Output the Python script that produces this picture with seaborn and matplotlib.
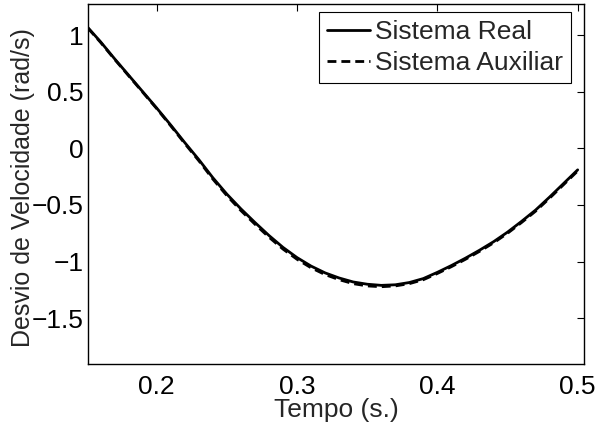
import numpy as np
import pandas as pd
import seaborn as sns
import matplotlib
matplotlib.use("Agg")
import matplotlib.pyplot as plt

# tempo (s.)
tempo = [0.151, 0.16, 0.17, 0.18, 0.19, 0.20, 0.21, 0.22, 0.23, 0.24,
         0.25, 0.26, 0.27, 0.28, 0.29, 0.30, 0.31, 0.32, 0.33, 0.34,
         0.35, 0.36, 0.37, 0.38, 0.39, 0.40, 0.41, 0.42, 0.43, 0.44,
         0.45, 0.46, 0.47, 0.48, 0.49, 0.50]

# desvio de velocidade (rad/s)
sistema_real = [1.065, 0.94, 0.79, 0.645, 0.50, 0.355, 0.205, 0.05, -0.10, -0.26,
                -0.405, -0.535, -0.655, -0.77, -0.875, -0.965, -1.04, -1.10, -1.145, -1.18,
                -1.20, -1.21, -1.205, -1.185, -1.15, -1.095, -1.035, -0.97, -0.90, -0.825,
                -0.74, -0.645, -0.545, -0.43, -0.31, -0.19]
sistema_aux = [1.06, 0.935, 0.785, 0.64, 0.495, 0.35, 0.198, 0.042, -0.11, -0.272,
               -0.418, -0.55, -0.67, -0.785, -0.89, -0.98, -1.055, -1.115, -1.16, -1.195,
               -1.215, -1.222, -1.215, -1.195, -1.16, -1.105, -1.045, -0.98, -0.91, -0.835,
               -0.75, -0.655, -0.555, -0.44, -0.32, -0.2]

labels = ["Sistema Real", "Sistema Auxiliar"]

df = pd.DataFrame({
    "Tempo": tempo * 2,
    "Desvio": sistema_real + sistema_aux,
    "Serie": [labels[0]] * len(tempo) + [labels[1]] * len(tempo),
})

FS = 19

sns.set_style("white")
plt.rcParams["font.family"] = ["Liberation Sans", "DejaVu Sans"]
plt.rcParams["font.size"] = FS

fig = plt.figure(figsize=(6.04, 4.28), dpi=100)
ax = fig.add_axes([0.1457, 0.1507, 0.8212, 0.8388])

sns.lineplot(data=df, x="Tempo", y="Desvio", hue="Serie", style="Serie",
             palette={labels[0]: "black", labels[1]: "black"},
             dashes={labels[0]: "", labels[1]: (3.2, 1.8)},
             linewidth=2, ax=ax, sort=False)

ax.set_xlim(0.151, 0.5045)
ax.set_ylim(-1.9, 1.27)
ax.set_xticks([0.2, 0.3, 0.4, 0.5])
ax.set_yticks([-1.5, -1, -0.5, 0, 0.5, 1])
ax.set_xticklabels(["0.2", "0.3", "0.4", "0.5"])
ax.set_yticklabels(["\u22121.5", "\u22121", "\u22120.5", "0", "0.5", "1"])

ax.tick_params(direction="in", length=5, width=0.8, top=True, right=True,
               labelsize=FS, colors="black")
ax.tick_params(axis="x", pad=8)
ax.tick_params(axis="y", pad=3)
for s in ax.spines.values():
    s.set_visible(True)
    s.set_color("black")
    s.set_linewidth(1.0)

ax.set_xlabel("Tempo (s.)", fontsize=FS)
ax.set_ylabel("Desvio de Velocidade (rad/s)", fontsize=18)
ax.xaxis.set_label_coords(0.5, -0.097)
ax.yaxis.set_label_coords(-0.131, 0.49)
ax.yaxis.label.set_va("center")

leg = ax.legend(loc="upper right", bbox_to_anchor=(0.9738, 0.978), borderaxespad=0,
                fontsize=FS, handlelength=1.63, handletextpad=0.19, borderpad=0.3,
                labelspacing=0.25, fancybox=False, framealpha=1, edgecolor="black")
leg.get_frame().set_linewidth(0.8)

fig.savefig("out.png", dpi=100, facecolor="white")
